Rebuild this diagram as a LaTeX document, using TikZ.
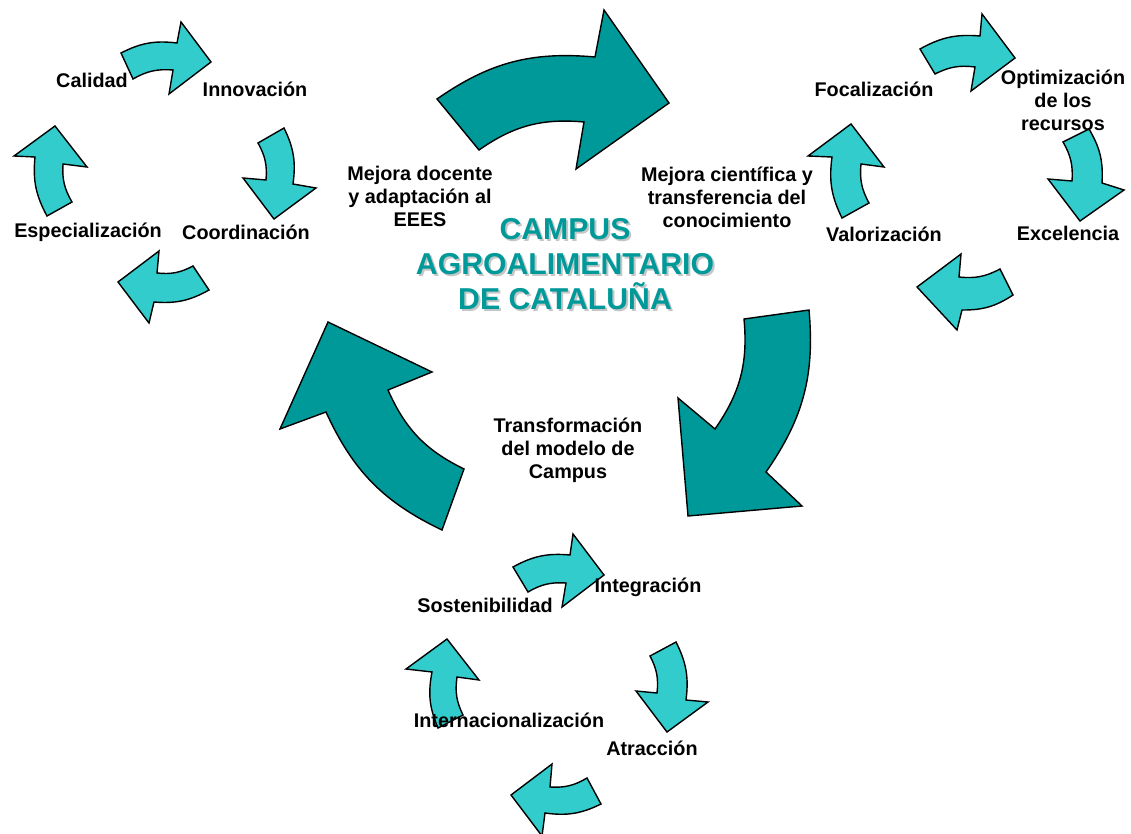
\documentclass[tikz,border=0pt]{standalone}
\usepackage{fontspec}
\setmainfont{Liberation Sans}
\usepackage{tikz}
\definecolor{darkteal}{RGB}{0,153,153}
\definecolor{lightteal}{RGB}{51,204,204}

\begin{document}
\begin{tikzpicture}[x=1pt, y=-1pt,
    bigarrow/.style={draw=black, line width=1.4pt, fill=darkteal},
    smallarrow/.style={draw=black, line width=1.4pt, fill=lightteal},
    label/.style={font=\fontsize{19.8}{23}\selectfont\bfseries, align=center, inner sep=0pt},
    title/.style={font=\fontsize{30.2}{35}\selectfont\bfseries, align=center, inner sep=0pt}]
    \useasboundingbox (0,0) rectangle (1131,834);
    % big cycle
    \draw[bigarrow] (437,99) to[bend left=20] (595,57) -- (604,10) -- (669,103) -- (576,169) -- (584,122) to[bend right=20] (479,150) -- cycle;
    \draw[bigarrow] (809,310) to[bend left=20] (766,472) -- (802,506) -- (688,516) -- (678,398) -- (715,429) to[bend right=20] (744,319) -- cycle;
    \draw[bigarrow] (442,530) to[bend left=20] (326,412) -- (280,429) -- (328,322) -- (432,372) -- (388,390) to[bend right=20] (464,469) -- cycle;
    % left cycle
    \draw[smallarrow] (121,53) to[bend left=17] (177,43) -- (181,22) -- (211,62) -- (169,94) -- (173,70) to[bend right=17] (133,79) -- cycle;
    \draw[smallarrow] (284,128) to[bend left=17] (293,184) -- (316,188) -- (274,219) -- (243,178) -- (266,180) to[bend right=17] (258,143) -- cycle;
    \draw[smallarrow] (209,290) to[bend left=17] (154,302) -- (149,323) -- (118,282) -- (159,251) -- (157,273) to[bend right=17] (193,266) -- cycle;
    \draw[smallarrow] (47,216) to[bend left=17] (35,157) -- (14,156) -- (55,126) -- (87,167) -- (63,164) to[bend right=17] (72,202) -- cycle;
    % right cycle
    \draw[smallarrow] (920,49) to[bend left=17] (980,36) -- (982,14) -- (1015,58) -- (971,91) -- (975,67) to[bend right=17] (935,74) -- cycle;
    \draw[smallarrow] (1089,129) to[bend left=17] (1102,183) -- (1124,190) -- (1080,221) -- (1048,179) -- (1072,181) to[bend right=17] (1063,142) -- cycle;
    \draw[smallarrow] (1013,295) to[bend left=17] (962,310) -- (957,330) -- (917,287) -- (961,254) -- (959,277) to[bend right=17] (1000,269) -- cycle;
    \draw[smallarrow] (842,218) to[bend left=17] (832,157) -- (808,156) -- (851,124) -- (884,167) -- (861,164) to[bend right=17] (869,203) -- cycle;
    % bottom cycle
    \draw[smallarrow] (513,567) to[bend left=17] (570,555) -- (573,534) -- (604,575) -- (562,607) -- (566,583) to[bend right=17] (528,592) -- cycle;
    \draw[smallarrow] (676,642) to[bend left=17] (686,700) -- (708,702) -- (667,732) -- (636,691) -- (657,693) to[bend right=17] (650,656) -- cycle;
    \draw[smallarrow] (601,804) to[bend left=17] (545,813) -- (542,836) -- (511,795) -- (552,764) -- (550,787) to[bend right=17] (587,778) -- cycle;
    \draw[smallarrow] (438,728) to[bend left=17] (432,672) -- (406,669) -- (447,639) -- (479,680) -- (457,677) to[bend right=17] (463,715) -- cycle;
    % title
    \node[title, text=gray!45] (shadow) at (567,266) {CAMPUS\\AGROALIMENTARIO\\DE CATALUÑA};
    \node[title, text=darkteal] (campus) at (565,264) {CAMPUS\\AGROALIMENTARIO\\DE CATALUÑA};
    % labels
    \node[label] (docente) at (420,196) {Mejora docente\\y adaptación al\\EEES};
    \node[label] (cientifica) at (727,197) {Mejora científica y\\transferencia del\\conocimiento};
    \node[label] (modelo) at (568,450) {Transformación\\del modelo de\\Campus};
    \node[label] (calidad) at (92,80) {Calidad};
    \node[label] (innovacion) at (255,89) {Innovación};
    \node[label] (especial) at (88,232) {Especialización};
    \node[label] (coord) at (246,232) {Coordinación};
    \node[label] (focal) at (874,89) {Focalización};
    \node[label] (optim) at (1063,100) {Optimización\\de los\\recursos};
    \node[label] (valor) at (884,234) {Valorización};
    \node[label] (excel) at (1068,233) {Excelencia};
    \node[label] (integ) at (648,587) {Integración};
    \node[label] (sosten) at (485,605) {Sostenibilidad};
    \node[label] (internac) at (509,720) {Internacionalización};
    \node[label] (atrac) at (652,748) {Atracción};
\end{tikzpicture}
\end{document}
